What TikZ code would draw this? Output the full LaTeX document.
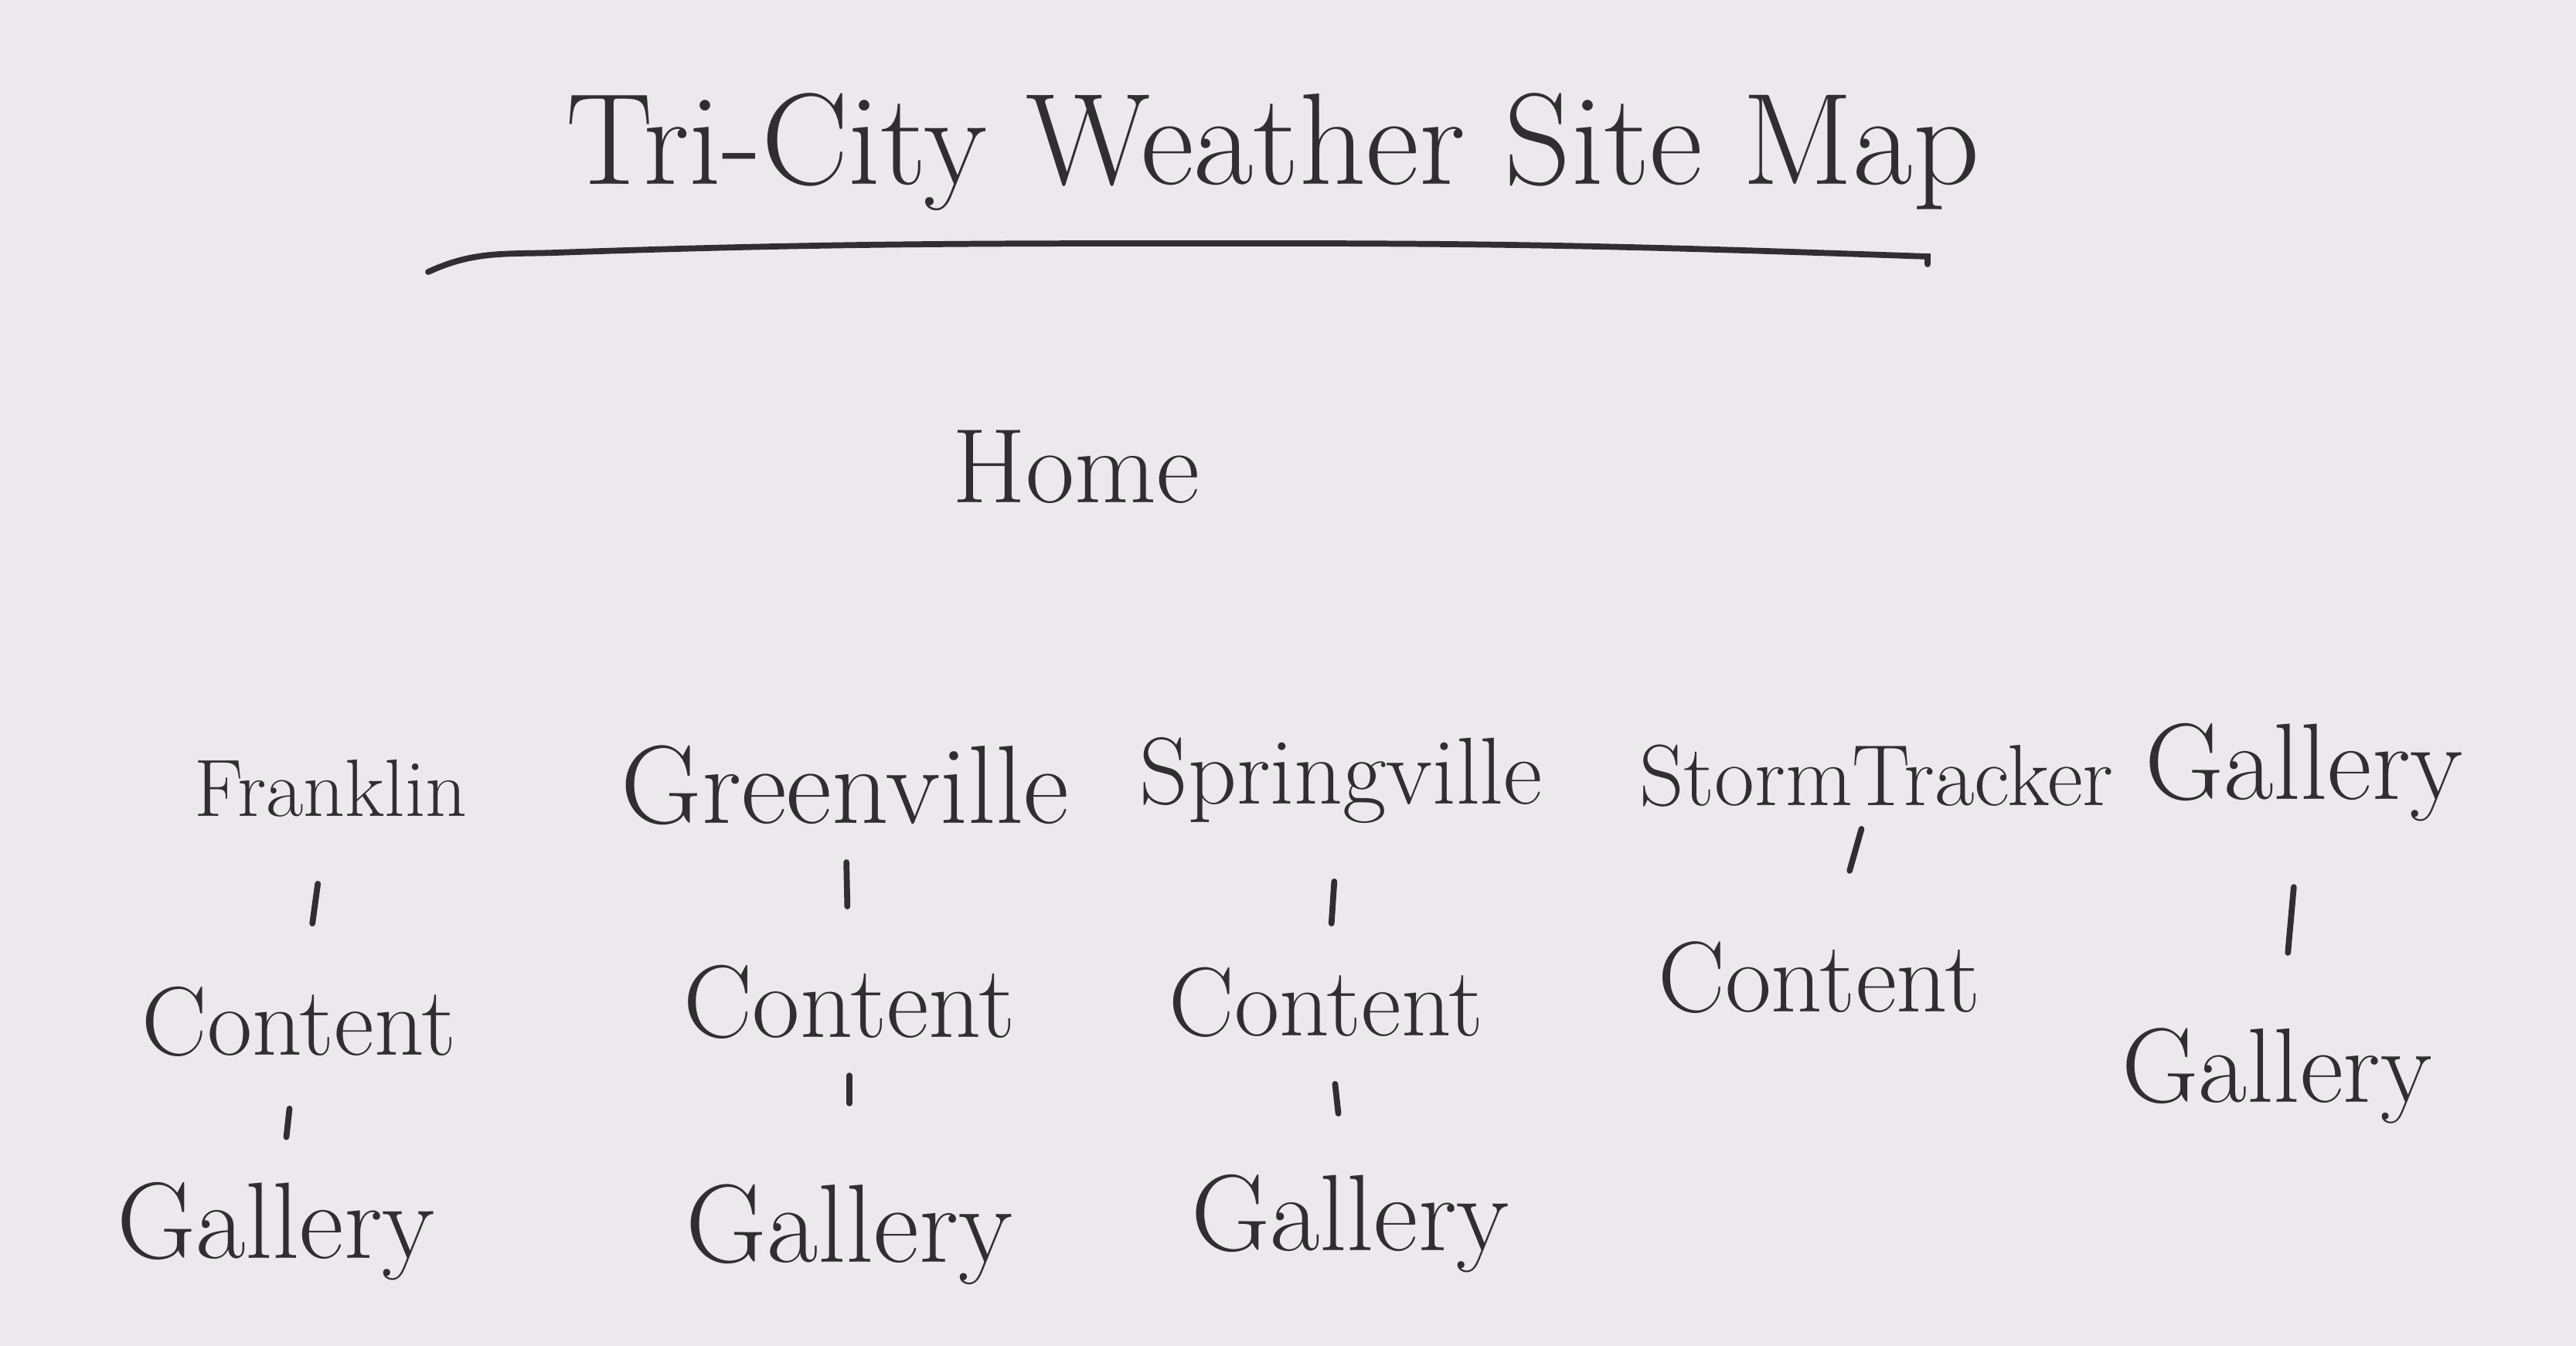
\documentclass[tikz,border=0pt]{standalone}
\usepackage{xcolor}
\usepackage{tikz}
\usetikzlibrary{calc}

\definecolor{paper}{RGB}{235,233,235}
\definecolor{ink}{RGB}{48,46,48}

\tikzset{
  page/.style={text=ink,inner sep=2pt,font=\fontsize{#1}{#1}\selectfont},
  page/.default=32,
  heading/.style={text=ink,inner sep=2pt,font=\fontsize{48}{56}\selectfont},
  pen/.style={draw=ink,line width=2.2pt,line cap=round}
}

\begin{document}
\begin{tikzpicture}
        \useasboundingbox (0,0) rectangle (33.330,17.420);
        \fill[paper] (0,0) rectangle (33.330,17.420);

        \node[heading] (title) at (16.470,15.450) {Tri-City Weather Site Map};
        \draw[pen] (5.540,13.900) to[out=25,in=182] (7.200,14.150) to[out=2,in=180] (16.500,14.270) to[out=0,in=178] (24.940,14.100) -- (24.940,14.000);

        \node[page=39] (home) at (13.920,11.380) {Home};

        \node[page=30] (fr) at (4.280,7.220) {Franklin};
        \node[page=41] (gr) at (10.930,7.260) {Greenville};
        \node[page=35] (sp) at (17.350,7.320) {Springville};
        \node[page=32] (st) at (24.280,7.380) {StormTracker};
        \node[page=40] (ga) at (29.810,7.420) {Gallery};

        \node[page=36] (frc) at (3.870,4.200) {Content};
        \node[page=38] (grc) at (10.990,4.450) {Content};
        \node[page=36] (spc) at (17.160,4.450) {Content};
        \node[page=37] (stc) at (23.540,4.770) {Content};
        \node[page=39] (gag) at (29.460,3.490) {Gallery};

        \node[page=40] (frg) at (3.570,1.480) {Gallery};
        \node[page=41] (grg) at (10.990,1.440) {Gallery};
        \node[page=40] (spg) at (17.470,1.580) {Gallery};

        \draw[pen] ($(fr)!0.410!(frc)$) -- ($(fr)!0.580!(frc)$);
        \draw[pen] ($(frc)!0.415!(frg)$) -- ($(frc)!0.550!(frg)$);
        \draw[pen] ($(gr)!0.356!(grc)$) -- ($(gr)!0.559!(grc)$);
        \draw[pen] ($(grc)!0.316!(grg)$) -- ($(grc)!0.435!(grg)$);
        \draw[pen] ($(sp)!0.456!(spc)$) -- ($(sp)!0.645!(spc)$);
        \draw[pen] ($(spc)!0.369!(spg)$) -- ($(spc)!0.502!(spg)$);
        \draw[pen] ($(st)!0.264!(stc)$) -- ($(st)!0.471!(stc)$);
        \draw[pen] ($(ga)!0.377!(gag)$) -- ($(ga)!0.593!(gag)$);

        \end{tikzpicture}
\end{document}
